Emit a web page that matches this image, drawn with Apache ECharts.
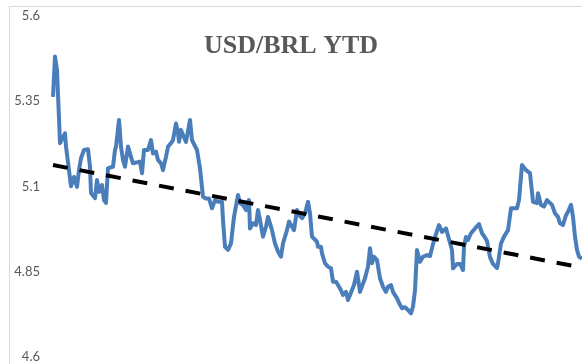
<!DOCTYPE html>
<html>
<head>
<meta charset="utf-8">
<script src="https://cdn.jsdelivr.net/npm/echarts@6/dist/echarts.min.js"></script>
<style>
  html, body { margin: 0; padding: 0; background: #ffffff; }
  #chart { width: 582px; height: 364px; }
</style>
</head>
<body>
<div id="chart"></div>
<script>
// Session index since the start of the year
const session = [
  0, 2, 4, 7, 9, 12, 13, 16, 18, 21, 24, 26, 28, 31, 35, 37, 38, 42, 44, 46,
  49, 51, 53, 55, 60, 62, 63, 66, 68, 70, 72, 75, 78, 80, 82, 87, 89, 91, 95, 98,
  100, 103, 105, 108, 110, 113, 115, 118, 120, 123, 125, 126, 128, 130, 133, 135, 137, 139, 144, 147,
  150, 153, 156, 158, 159, 162, 165, 169, 170, 172, 175, 178, 181, 185, 187, 190, 193, 196, 197, 200,
  203, 205, 207, 210, 213, 215, 219, 222, 225, 228, 230, 234, 236, 239, 241, 244, 246, 249, 252, 255,
  257, 259, 264, 265, 268, 269, 272, 275, 278, 280, 283, 285, 288, 290, 293, 295, 297, 299, 301, 304,
  305, 307, 309, 312, 315, 317, 319, 321, 324, 327, 330, 333, 335, 338, 340, 344, 347, 349, 352, 355,
  358, 360, 362, 364, 367, 370, 374, 377, 380, 384, 386, 389, 393, 395, 399, 400, 404, 407, 410, 411,
  413, 415, 418, 422, 426, 429, 431, 434, 437, 440, 444, 445, 448, 451, 455, 458, 460, 464, 466, 469,
  471, 473, 475, 477, 480, 484, 485, 488, 491, 494, 496, 499, 502, 505, 507, 510, 513, 515, 518, 520,
  522, 524, 526, 529
];

// USD/BRL closing rate
const usdbrl = [
  5.363, 5.481, 5.442, 5.227, 5.222, 5.256, 5.217, 5.148, 5.101, 5.128, 5.099, 5.148, 5.183, 5.207, 5.209, 5.158, 5.081, 5.066, 5.119, 5.084,
  5.104, 5.060, 5.052, 5.154, 5.158, 5.207, 5.217, 5.295, 5.217, 5.178, 5.158, 5.217, 5.187, 5.168, 5.173, 5.173, 5.139, 5.207, 5.207, 5.236,
  5.197, 5.202, 5.178, 5.168, 5.148, 5.187, 5.217, 5.227, 5.236, 5.285, 5.256, 5.231, 5.266, 5.251, 5.231, 5.236, 5.295, 5.236, 5.207, 5.153,
  5.070, 5.065, 5.065, 5.070, 5.036, 5.060, 5.055, 5.055, 5.002, 4.923, 4.914, 4.933, 5.011, 5.075, 5.051, 5.046, 5.031, 5.060, 4.977, 4.992,
  4.987, 5.031, 5.002, 4.953, 4.982, 5.011, 4.972, 4.933, 4.909, 4.894, 4.933, 4.972, 4.997, 4.982, 4.972, 5.031, 5.016, 5.007, 5.021, 5.055,
  5.021, 4.953, 4.938, 4.923, 4.923, 4.904, 4.875, 4.865, 4.860, 4.821, 4.821, 4.811, 4.796, 4.782, 4.791, 4.767, 4.782, 4.777, 4.811, 4.850,
  4.855, 4.791, 4.787, 4.831, 4.865, 4.919, 4.875, 4.894, 4.884, 4.831, 4.806, 4.791, 4.806, 4.811, 4.791, 4.772, 4.753, 4.743, 4.746, 4.738,
  4.728, 4.748, 4.796, 4.914, 4.879, 4.894, 4.899, 4.896, 4.931, 4.970, 4.987, 4.967, 4.977, 4.972, 4.914, 4.860, 4.873, 4.873, 4.855, 4.923,
  4.952, 4.943, 4.963, 4.977, 4.990, 4.963, 4.955, 4.940, 4.893, 4.873, 4.861, 4.875, 4.933, 4.953, 4.972, 5.036, 5.031, 5.036, 5.060, 5.163,
  5.163, 5.148, 5.143, 5.139, 5.055, 5.051, 5.080, 5.046, 5.041, 5.060, 5.065, 5.046, 5.021, 5.011, 4.992, 4.987, 5.016, 5.026, 5.046, 5.011,
  4.953, 4.914, 4.894, 4.889
];

// Linear trend, first and last session
const trendSession = [0, 529];
const trendRate = [5.163, 4.862];

// Value axis ticks
const yMin = 4.6;
const yMax = 5.6;
const yStep = 0.25;

const chart = echarts.init(document.getElementById('chart'), null, { renderer: 'canvas' });

chart.setOption({
  backgroundColor: '#ffffff',
  animation: false,
  title: {
    text: 'USD/BRL YTD',
    left: 'center',
    top: 28,
    textStyle: {
      fontFamily: '"Liberation Serif", serif',
      fontWeight: 'bold',
      fontSize: 26,
      color: '#595959'
    }
  },
  graphic: [{
    type: 'rect',
    shape: { x: 9.5, y: 6.5, width: 600, height: 400 },
    style: { fill: 'none', stroke: '#d9d9d9', lineWidth: 1 },
    silent: true,
    z: -10
  }],
  grid: { left: 53, right: 0, top: 16, bottom: 7, containLabel: false },
  xAxis: {
    type: 'value',
    min: 0,
    max: 529,
    show: false
  },
  yAxis: {
    type: 'value',
    min: yMin,
    max: yMax,
    interval: yStep,
    axisLine: { show: false },
    axisTick: { show: false },
    splitLine: { show: false },
    axisLabel: {
      margin: 13,
      color: '#595959',
      fontFamily: 'Lato, "Open Sans", sans-serif',
      fontSize: 13,
      formatter: v => String(parseFloat(v.toFixed(2)))
    }
  },
  series: [
    {
      name: 'USD/BRL',
      type: 'line',
      data: session.map((t, i) => [t, usdbrl[i]]),
      showSymbol: false,
      lineStyle: { color: '#4a7ebb', width: 4, join: 'round' },
      z: 2
    },
    {
      name: 'Trend',
      type: 'line',
      data: trendSession.map((t, i) => [t, trendRate[i]]),
      showSymbol: false,
      lineStyle: { color: '#000000', width: 4, type: [15, 12] },
      z: 3
    }
  ]
});
</script>
</body>
</html>
